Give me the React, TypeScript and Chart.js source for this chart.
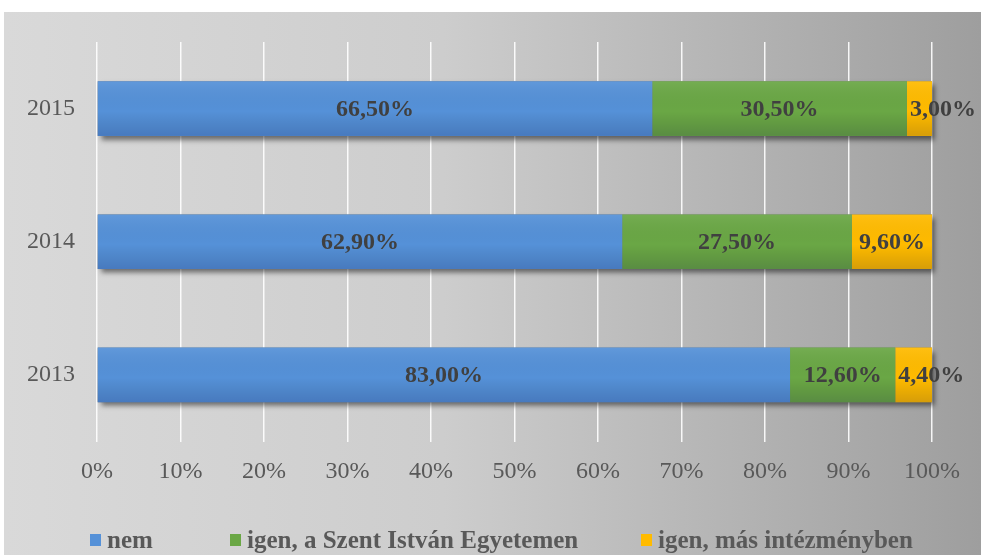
import React, { useEffect, useRef } from "react";
import { Chart, registerables } from "chart.js";

Chart.register(...registerables);

const years = ["2015", "2014", "2013"];
const nem = [66.5, 62.9, 83.0];
const igenSzie = [30.5, 27.5, 12.6];
const igenMas = [3.0, 9.6, 4.4];
const seriesNames = ["nem", "igen, a Szent István Egyetemen", "igen, más intézményben"];
const seriesColors = ["#5591d8", "#6aa745", "#ffbb00"];
const xTicks = [0, 10, 20, 30, 40, 50, 60, 70, 80, 90, 100];

const FONT = "'Liberation Serif', 'Times New Roman', serif";
const fmt = (v: number) => v.toFixed(2).replace(".", ",") + "%";

const bgPlugin = {
  id: "bgPlugin",
  beforeDraw(chart: any) {
    const { ctx, width, height } = chart;
    ctx.save();
    ctx.fillStyle = "#ffffff";
    ctx.fillRect(0, 0, width, height);
    const g = ctx.createLinearGradient(4, 0, width, 0);
    g.addColorStop(0, "#d9d9d9");
    g.addColorStop(0.45, "#cdcdcd");
    g.addColorStop(1, "#9e9e9e");
    ctx.fillStyle = g;
    ctx.fillRect(4, 12, width - 4, height - 12);
    ctx.restore();
  },
};

const shadowPlugin = {
  id: "shadowPlugin",
  beforeDatasetsDraw(chart: any) {
    const { ctx } = chart;
    const metas = chart.getSortedVisibleDatasetMetas();
    const n = chart.data.labels.length;
    for (let i = 0; i < n; i++) {
      let minX = Infinity, maxX = -Infinity, top = 0, h = 0;
      metas.forEach((m: any) => {
        const el = m.data[i];
        if (!el) return;
        const p = el.getProps(["x", "y", "base", "height"], true);
        minX = Math.min(minX, p.base, p.x);
        maxX = Math.max(maxX, p.base, p.x);
        top = p.y - p.height / 2;
        h = p.height;
      });
      ctx.save();
      ctx.shadowColor = "rgba(0,0,0,0.5)";
      ctx.shadowBlur = 5;
      ctx.shadowOffsetX = 3;
      ctx.shadowOffsetY = 4;
      ctx.fillStyle = "#777";
      ctx.fillRect(minX, top, maxX - minX, h);
      ctx.restore();
    }
  },
  afterDatasetsDraw(chart: any) {
    const { ctx } = chart;
    const metas = chart.getSortedVisibleDatasetMetas();
    metas.forEach((m: any) => {
      m.data.forEach((el: any) => {
        const p = el.getProps(["x", "y", "base", "height"], true);
        const top = p.y - p.height / 2;
        const g = ctx.createLinearGradient(0, top, 0, top + p.height);
        g.addColorStop(0, "rgba(255,255,255,0.07)");
        g.addColorStop(0.55, "rgba(0,0,0,0.0)");
        g.addColorStop(1, "rgba(0,0,60,0.16)");
        ctx.save();
        ctx.fillStyle = g;
        ctx.fillRect(Math.min(p.base, p.x), top, Math.abs(p.x - p.base), p.height);
        ctx.restore();
      });
    });
    ctx.save();
    ctx.font = `bold 24px ${FONT}`;
    ctx.fillStyle = "#404040";
    ctx.textBaseline = "middle";
    ctx.textAlign = "left";
    metas.forEach((m: any) => {
      const ds = chart.data.datasets[m.index];
      m.data.forEach((el: any, i: number) => {
        const p = el.getProps(["x", "y", "base"], true);
        const txt = fmt(ds.data[i]);
        const w = ctx.measureText(txt).width;
        const left0 = Math.min(p.base, p.x);
        const center = (p.base + p.x) / 2;
        const left = Math.max(center - w / 2, left0 + 3);
        ctx.fillText(txt, left, p.y + 1);
      });
    });
    ctx.restore();
  },
};

const legendPlugin = {
  id: "customLegend",
  afterDraw(chart: any) {
    const { ctx } = chart;
    const xs = [90, 230, 641];
    ctx.save();
    ctx.font = `bold 25px ${FONT}`;
    ctx.textBaseline = "alphabetic";
    ctx.textAlign = "left";
    chart.data.datasets.forEach((ds: any, i: number) => {
      const x = xs[i];
      ctx.fillStyle = ds.backgroundColor;
      ctx.fillRect(x, 534, 11, 12);
      ctx.fillStyle = "#595959";
      ctx.fillText(ds.label, x + 17, 548);
    });
    ctx.restore();
  },
};

export default function App() {
  const ref = useRef<HTMLCanvasElement | null>(null);
  useEffect(() => {
    if (!ref.current) return;
    const seriesData = [nem, igenSzie, igenMas];
    const chart = new Chart(ref.current, {
      type: "bar",
      data: {
        labels: years,
        datasets: seriesData.map((d, i) => ({
          label: seriesNames[i],
          data: d,
          backgroundColor: seriesColors[i],
          borderWidth: 0,
          categoryPercentage: 1,
          barPercentage: 0.41,
        })),
      },
      options: {
        indexAxis: "y",
        animation: false,
        responsive: false,
        maintainAspectRatio: false,
        layout: { padding: { top: 42, right: 49, left: 0, bottom: 0 } },
        plugins: {
          legend: { display: false },
          tooltip: { enabled: false },
          title: { display: false },
        },
        scales: {
          x: {
            stacked: true,
            min: 0,
            max: 100,
            afterFit: (s: any) => {
              s.height = 113.5;
            },
            afterBuildTicks: (s: any) => {
              s.ticks = xTicks.map((v) => ({ value: v }));
            },
            ticks: {
              callback: (v: any) => v + "%",
              color: "#595959",
              font: { family: FONT, size: 24 },
              padding: 16,
              maxRotation: 0,
            },
            grid: {
              color: "rgba(255,255,255,0.9)",
              lineWidth: 1.5,
              drawTicks: false,
            },
            border: { display: false },
          },
          y: {
            stacked: true,
            afterFit: (s: any) => {
              s.width = 97;
            },
            ticks: {
              color: "#595959",
              font: { family: FONT, size: 24 },
              padding: 22,
            },
            grid: { display: false, drawTicks: false },
            border: { display: false },
          },
        },
      },
      plugins: [bgPlugin, shadowPlugin, legendPlugin],
    });
    return () => chart.destroy();
  }, []);
  return (
    <div style={{ position: "fixed", left: 0, top: 0, width: 981, height: 555, background: "#fff" }}>
      <canvas ref={ref} width={981} height={555} style={{ display: "block", width: 981, height: 555 }} />
    </div>
  );
}
